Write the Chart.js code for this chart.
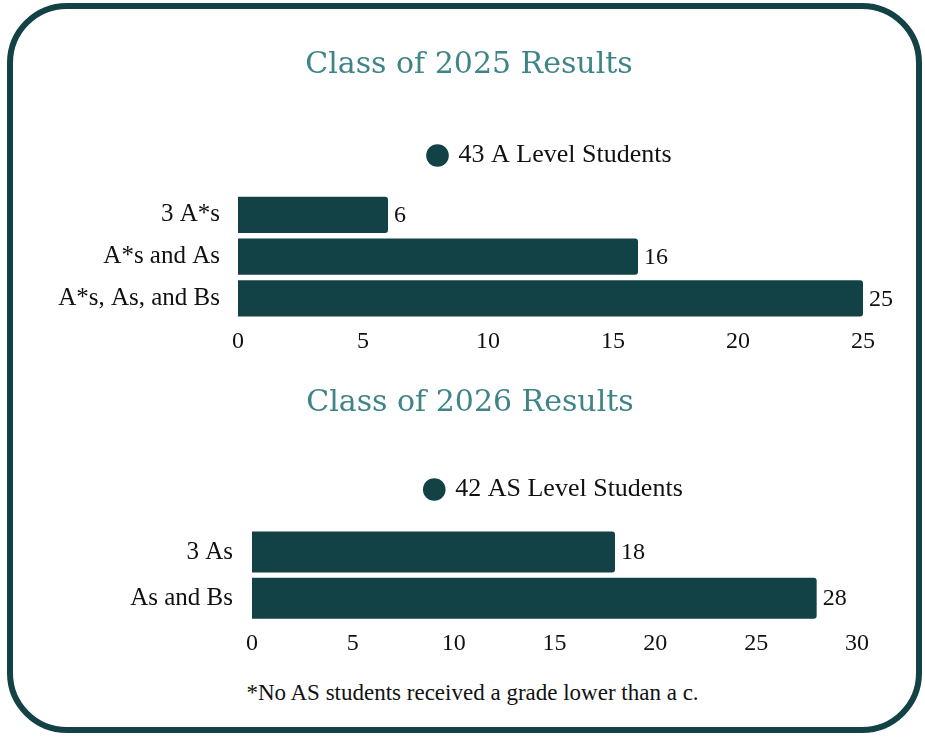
<!DOCTYPE html>
<html>
<head>
<meta charset="utf-8">
<script src="https://cdn.jsdelivr.net/npm/chart.js@4.4.1/dist/chart.umd.min.js"></script>
<style>
  html, body { margin: 0; padding: 0; background: #ffffff; }
  #frame {
    position: absolute; left: 7px; top: 3px; width: 903px; height: 718px;
    border: 6px solid #134246; border-radius: 60px;
  }
  .chart-box { position: absolute; left: 0; width: 925px; }
  #box-2025 { top: 0; height: 360px; }
  #box-2026 { top: 338px; height: 324px; }
  #note {
    position: absolute; left: 0; width: 945px; top: 680px; text-align: center;
    font-family: "Liberation Serif", serif; font-size: 23px; color: #111;
  }
</style>
</head>
<body>
<div id="frame"></div>
<div class="chart-box" id="box-2025"><canvas id="chart-2025"></canvas></div>
<div class="chart-box" id="box-2026"><canvas id="chart-2026"></canvas></div>
<div id="note">*No AS students received a grade lower than a c.</div>
<script>
const labels2025 = ["3 A*s", "A*s and As", "A*s, As, and Bs"];
const values2025 = [6, 16, 25];
const legend2025 = "43 A Level Students";

const labels2026 = ["3 As", "As and Bs"];
const values2026 = [18, 28];
const legend2026 = "42 AS Level Students";

const barColor = "#134246";
const titleColor = "#3f8588";
const textColor = "#111111";
const serif = "'Liberation Serif', serif";

// writes the value just past the end of each bar
const valueLabels = {
	id: "valueLabels",
	afterDatasetsDraw(chart) {
		const ctx = chart.ctx;
		ctx.save();
		ctx.font = "24px " + serif;
		ctx.fillStyle = textColor;
		ctx.textAlign = "left";
		ctx.textBaseline = "middle";
		chart.getDatasetMeta(0).data.forEach((bar, i) => {
			ctx.fillText(chart.data.datasets[0].data[i], bar.x + 6, bar.y + 1);
		});
		ctx.restore();
	},
};

function renderChart(id, title, legendText, labels, values, opts) {
	new Chart(document.getElementById(id), {
		type: "bar",
		data: {
			labels: labels,
			datasets: [
				{
					label: legendText,
					data: values,
					backgroundColor: barColor,
					borderWidth: 0,
					borderRadius: 3,
					borderSkipped: "start",
					categoryPercentage: 1,
					barPercentage: opts.barPct,
				},
			],
		},
		options: {
			indexAxis: "y",
			responsive: true,
			maintainAspectRatio: false,
			animation: false,
			layout: {
				padding: { top: opts.top, right: opts.right, bottom: 4, left: opts.left },
			},
			plugins: {
				title: {
					display: true,
					text: title,
					color: titleColor,
					font: { family: "'DejaVu Serif', serif", size: 30, weight: "normal" },
					padding: { top: 0, bottom: opts.titleGap },
				},
				// empty subtitle placed under the legend, just to leave a gap above the bars
				subtitle: {
					display: true,
					text: "",
					weight: 500,
					font: { size: 10 },
					padding: { top: opts.legendGap, bottom: 0 },
				},
				legend: {
					display: true,
					fullSize: false,
					labels: {
						usePointStyle: true,
						pointStyle: "circle",
						boxWidth: 16,
						boxHeight: 16,
						color: textColor,
						padding: opts.legendPad,
						font: { family: serif, size: 26 },
					},
				},
				tooltip: { enabled: false },
			},
			scales: {
				x: {
					min: 0,
					max: opts.max,
					grid: { display: false },
					border: { display: false },
					ticks: {
						stepSize: 5,
						color: textColor,
						padding: 0,
						font: { family: serif, size: 24 },
					},
				},
				y: {
					grid: { display: false },
					border: { display: false },
					afterFit: (scale) => {
						scale.width = opts.axisWidth;
						// long labels run into the left padding, so don't clip them to the axis box
						scale._computeLabelArea = () => undefined;
					},
					ticks: {
						color: textColor,
						padding: opts.tickPad,
						font: { family: serif, size: 25 },
					},
				},
			},
		},
		plugins: [valueLabels],
	});
}

renderChart("chart-2025", "Class of 2025 Results", legend2025, labels2025, values2025, {
	top: 47, left: 75, right: 62, max: 25, axisWidth: 163, tickPad: 10,
	titleGap: 8.5, legendPad: 51, legendGap: 3.5, barPct: 0.87,
});
renderChart("chart-2026", "Class of 2026 Results", legend2026, labels2026, values2026, {
	top: 47, left: 83, right: 68, max: 30, axisWidth: 169, tickPad: 11,
	titleGap: 3, legendPad: 52.5, legendGap: 4.5, barPct: 0.89,
});
</script>
</body>
</html>
